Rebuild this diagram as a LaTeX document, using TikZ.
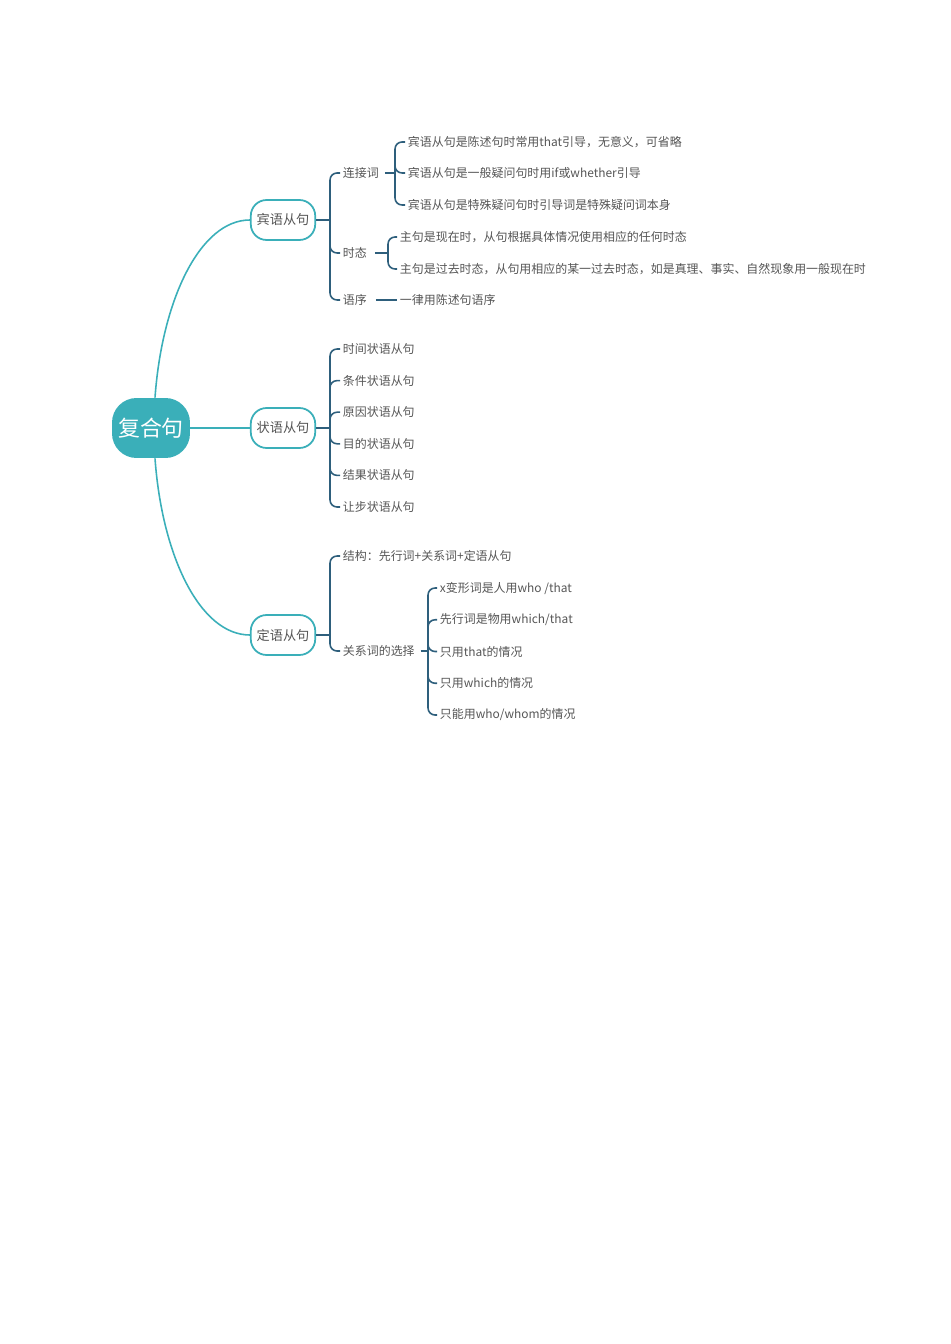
\documentclass[tikz,border=0pt]{standalone}
\usepackage{fontspec}
\setmainfont{Noto Sans CJK SC}
\usetikzlibrary{positioning}
\definecolor{teal1}{HTML}{3AAFB9}
\definecolor{line1}{HTML}{2E5F7C}
\definecolor{txt}{HTML}{555555}

\tikzset{
  rootbox/.style={fill=teal1, text=white, rounded corners=14pt, minimum width=1.56cm, minimum height=1.2cm, font=\fontsize{12.5}{14}\selectfont},
  topicbox/.style={draw=teal1, line width=1pt, fill=white, text=txt, rounded corners=9pt, minimum width=1.24cm, minimum height=0.8cm, font=\fontsize{7.5}{9}\selectfont},
  leaf/.style={anchor=west, text=txt, inner sep=1.5pt, font=\fontsize{6.8}{8}\selectfont},
  mainline/.style={teal1, line width=0.9pt},
  brace/.style={line1, line width=0.9pt, rounded corners=4pt},
}

\begin{document}
\begin{tikzpicture}[x=0.02cm, y=-0.02cm]
\useasboundingbox (0,0) rectangle (950,1344);

% centre and topics
\node[rootbox] (root) at (151,428) {复合句};
\node[topicbox] (obj) at (283,220) {宾语从句};
\node[topicbox] (adv) at (283,428) {状语从句};
\node[topicbox] (attr) at (283,635) {定语从句};

\draw[mainline] (root.north) ++(4,0) .. controls (162,300) and (200,220) .. (obj.west);
\draw[mainline] (root.east) -- (adv.west);
\draw[mainline] (root.south) ++(4,0) .. controls (162,556) and (200,635) .. (attr.west);

% 宾语从句
\coordinate (objhub) at (330,220);
\node[leaf] (conj) at (340,173) {连接词};
\node[leaf] (tense) at (340,253) {时态};
\node[leaf] (order) at (340,300) {语序};
\draw[brace] (obj.east) -- (objhub);
\foreach \n in {conj,tense,order} \draw[brace] (objhub) |- (\n.west);

\coordinate (conjhub) at (395,173);
\node[leaf] (c1) at (405,142) {宾语从句是陈述句时常用that引导，无意义，可省略};
\node[leaf] (c2) at (405,173) {宾语从句是一般疑问句时用if或whether引导};
\node[leaf] (c3) at (405,205) {宾语从句是特殊疑问句时引导词是特殊疑问词本身};
\draw[brace] (conj.east) ++(3,0) -- (conjhub);
\foreach \n in {c1,c2,c3} \draw[brace] (conjhub) |- (\n.west);

\coordinate (tensehub) at (388,253);
\node[leaf] (t1) at (397,237) {主句是现在时，从句根据具体情况使用相应的任何时态};
\node[leaf] (t2) at (397,269) {主句是过去时态，从句用相应的某一过去时态，如是真理、事实、自然现象用一般现在时};
\draw[brace] (tense.east) ++(5,0) -- (tensehub);
\foreach \n in {t1,t2} \draw[brace] (tensehub) |- (\n.west);

\node[leaf] (o1) at (397,300) {一律用陈述句语序};
\draw[brace] (order.east) ++(6,0) -- (o1.west);

% 状语从句
\coordinate (advhub) at (330,428);
\draw[brace] (adv.east) -- (advhub);
\foreach \t [count=\i] in {时间状语从句,条件状语从句,原因状语从句,目的状语从句,结果状语从句,让步状语从句} {
  \node[leaf] (a\i) at (340,{349+31.6*(\i-1)}) {\t};
  \draw[brace] (advhub) |- (a\i.west);
}

% 定语从句
\coordinate (attrhub) at (330,635);
\node[leaf] (struct) at (340,556) {结构：先行词+关系词+定语从句};
\node[leaf] (rel) at (340,651) {关系词的选择};
\draw[brace] (attr.east) -- (attrhub);
\foreach \n in {struct,rel} \draw[brace] (attrhub) |- (\n.west);

\coordinate (relhub) at (428,651);
\draw[brace] (rel.east) ++(3,0) -- (relhub);
\foreach \t [count=\i] in {x变形词是人用who /that,先行词是物用which/that,只用that的情况,只用which的情况,只能用who/whom的情况} {
  \node[leaf] (r\i) at (437,{588+31.75*(\i-1)}) {\t};
  \draw[brace] (relhub) |- (r\i.west);
}
\end{tikzpicture}
\end{document}
